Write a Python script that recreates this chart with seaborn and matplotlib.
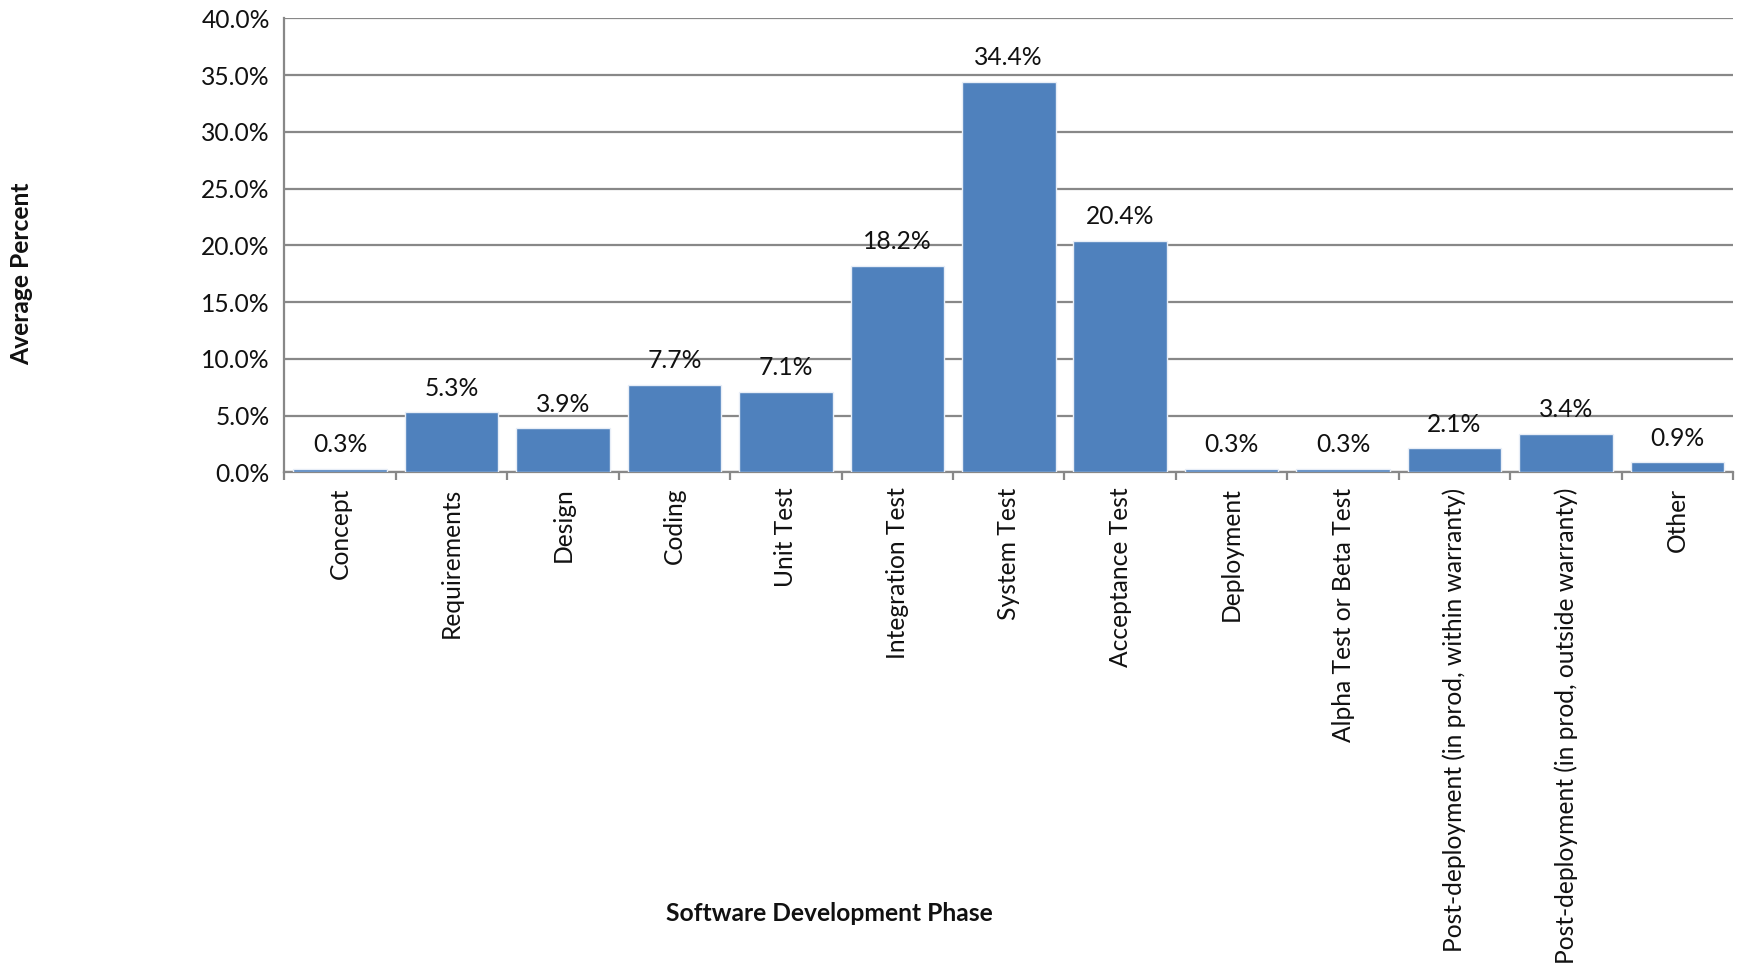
import matplotlib
matplotlib.use("Agg")
import matplotlib.pyplot as plt
import seaborn as sns
import pandas as pd
from matplotlib.ticker import FixedLocator, FuncFormatter

phases = [
    "Concept", "Requirements", "Design", "Coding", "Unit Test",
    "Integration Test", "System Test", "Acceptance Test", "Deployment",
    "Alpha Test or Beta Test", "Post-deployment (in prod, within warranty)",
    "Post-deployment (in prod, outside warranty)", "Other",
]
avg_percent = [0.3, 5.3, 3.9, 7.7, 7.1, 18.2, 34.4, 20.4, 0.3, 0.3, 2.1, 3.4, 0.9]
y_ticks = [0, 5, 10, 15, 20, 25, 30, 35, 40]

sns.set_theme(style="white")
plt.rcParams["font.family"] = ["Lato", "DejaVu Sans"]

df = pd.DataFrame({"phase": phases, "pct": avg_percent})

fig = plt.figure(figsize=(17.43, 9.76), dpi=100)
ax = fig.add_axes([0.1632, 0.5161, 0.9943 - 0.1632, 0.9813 - 0.5161])

grid_c = "#888888"
bar_c = "#4F81BD"
txt_c = "#111111"
fs = 17.7

sns.barplot(data=df, x="phase", y="pct", color=bar_c, width=0.84,
            edgecolor="#e8eef7", linewidth=1.0, saturation=1, ax=ax, zorder=3)

ax.set_xlim(-0.5, len(phases) - 0.5)
ax.set_ylim(0, 40)
ax.set_yticks(y_ticks)
ax.yaxis.set_major_formatter(FuncFormatter(lambda v, p: f"{v:.1f}%"))
ax.grid(axis="y", color=grid_c, linewidth=1.6, zorder=0)
ax.set_axisbelow(True)

for s in ["top", "right"]:
    ax.spines[s].set_visible(False)
for s in ["left", "bottom"]:
    ax.spines[s].set_color(grid_c)
    ax.spines[s].set_linewidth(1.6)

ax.tick_params(axis="y", which="major", direction="out", length=5.5, width=1.6,
               color=grid_c, labelsize=fs, pad=5, labelcolor=txt_c)
# category labels at bar centres, tick marks between categories
ax.tick_params(axis="x", which="major", length=0, labelsize=fs, pad=11,
               labelcolor=txt_c, labelrotation=90)
ax.xaxis.set_minor_locator(FixedLocator([i + 0.5 for i in range(-1, len(phases))]))
ax.tick_params(axis="x", which="minor", direction="out", length=5.5, width=1.6,
               color=grid_c, bottom=True)
for lbl in ax.get_xticklabels():
    lbl.set_verticalalignment("top")
    lbl.set_horizontalalignment("center")

ax.set_xlabel("")
ax.set_ylabel("")

for i, v in enumerate(avg_percent):
    ax.annotate(f"{v:.1f}%", xy=(i, v), xytext=(0, 9), textcoords="offset points",
                ha="center", va="bottom", fontsize=fs, color=txt_c)

fig.text(0.0125, 0.72, "Average Percent", rotation=90, ha="center", va="center",
         fontsize=fs, fontweight="bold", color=txt_c)
fig.text(0.4757, 0.0645, "Software Development Phase", ha="center", va="center",
         fontsize=fs, fontweight="bold", color=txt_c)

fig.savefig("out.png", dpi=100, facecolor="white")
